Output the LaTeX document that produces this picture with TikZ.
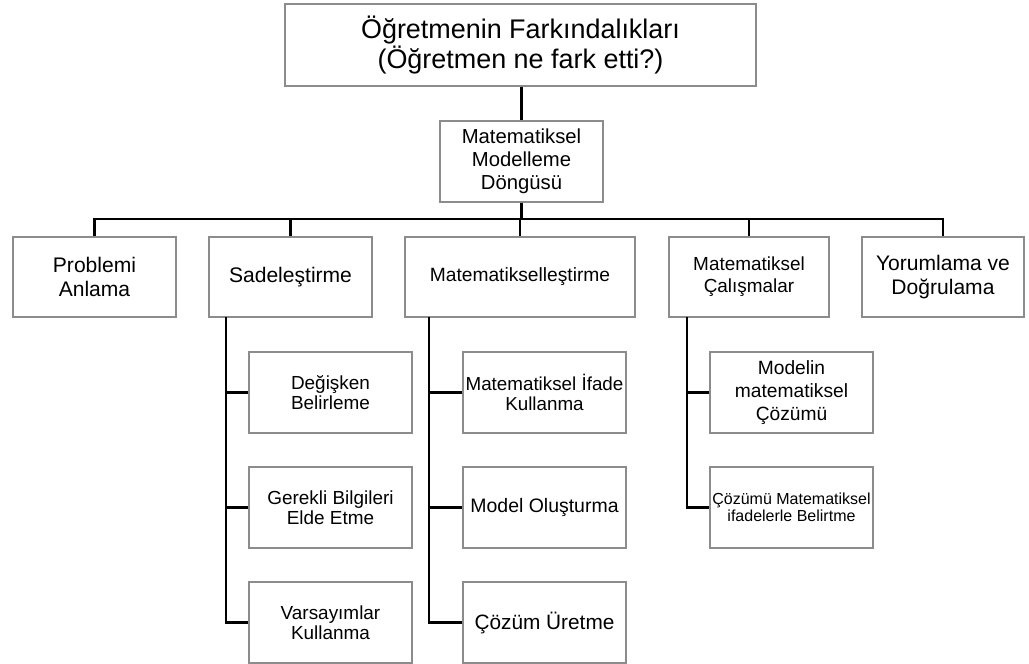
\documentclass[tikz,border=0pt]{standalone}
\usepackage{fontspec}
\setmainfont{Liberation Sans}
\definecolor{boxgray}{HTML}{8C8C8C}

\begin{document}
\begin{tikzpicture}[x=0.75pt, y=-0.75pt,
    box/.style={draw=boxgray, line width=0.9pt, fill=white, align=center, inner sep=0pt},
    mainbox/.style={box, minimum width=122.25pt, minimum height=60pt, font=\fontsize{15.8}{17.5}\selectfont},
    subbox/.style={box, minimum width=122.25pt, minimum height=60.75pt, font=\fontsize{14.2}{14.6}\selectfont},
    treeline/.style={line width=2.1pt, line join=miter}]
    \useasboundingbox (0,0) rectangle (1029,664);
    % top of the tree
    \node[box, minimum width=353.25pt, minimum height=61.5pt, font=\fontsize{20.2}{22.5}\selectfont] (title) at (520.5,45)
      {Öğretmenin Farkındalıkları\\(Öğretmen ne fark etti?)};
    \node[box, minimum width=122.25pt, minimum height=60.75pt, font=\fontsize{15.2}{17.25}\selectfont] (cycle) at (521.5,161.5)
      {Matematiksel\\Modelleme\\Döngüsü};
    % phases
    \node[mainbox] (anlama) at (94.5,277) {Problemi\\Anlama};
    \node[mainbox] (sade) at (290.5,277) {Sadeleştirme};
    \node[mainbox, minimum width=172.5pt, font=\fontsize{14.4}{16}\selectfont] (matlas) at (520,277) {Matematikselleştirme};
    \node[mainbox, minimum width=120pt, font=\fontsize{14.2}{16.5}\selectfont] (calis) at (749,277) {Matematiksel\\Çalışmalar};
    \node[mainbox, minimum width=121.5pt] (yorum) at (943,277) {Yorumlama ve\\Doğrulama};
    % sub steps
    \node[subbox] (sade1) at (330.5,392.5) {Değişken\\Belirleme};
    \node[subbox] (sade2) at (330.5,507.5) {Gerekli Bilgileri\\Elde Etme};
    \node[subbox] (sade3) at (330.5,622.5) {Varsayımlar\\Kullanma};
    \node[subbox, font=\fontsize{14.1}{15}\selectfont] (mat1) at (544.5,392.5) {Matematiksel İfade\\Kullanma};
    \node[subbox, font=\fontsize{14.6}{17}\selectfont] (mat2) at (544.5,507.5) {Model Oluşturma};
    \node[subbox, font=\fontsize{15.6}{17}\selectfont] (mat3) at (544.5,622.5) {Çözüm Üretme};
    \node[subbox, font=\fontsize{14.4}{17.25}\selectfont] (cal1) at (791.5,392.5) {Modelin\\matematiksel\\Çözümü};
    \node[subbox, font=\fontsize{12}{12.75}\selectfont] (cal2) at (791.5,507.5) {Çözümü Matematiksel\\ifadelerle Belirtme};
    % connectors
    \coordinate (bus) at (521.5,219);
    \coordinate (sadetrunk) at (226,317);
    \coordinate (mattrunk) at (429,317);
    \coordinate (caltrunk) at (687,317);
    \draw[treeline] (title.south -| cycle.north) -- (cycle.north);
    \draw[treeline] (cycle) -- (bus);
    \draw[treeline] (anlama.north) -- (anlama.north |- bus) -- (yorum.north |- bus) -- (yorum.north);
    \draw[treeline] (sade.north) -- (sade.north |- bus);
    \draw[treeline] (matlas.north) -- (matlas.north |- bus);
    \draw[treeline] (calis.north) -- (calis.north |- bus);
    \draw[treeline] (sadetrunk) |- (sade3.west);
    \draw[treeline] (sade1.west) -- (sade1.west -| sadetrunk);
    \draw[treeline] (sade2.west) -- (sade2.west -| sadetrunk);
    \draw[treeline] (mattrunk) |- (mat3.west);
    \draw[treeline] (mat1.west) -- (mat1.west -| mattrunk);
    \draw[treeline] (mat2.west) -- (mat2.west -| mattrunk);
    \draw[treeline] (caltrunk) |- (cal2.west);
    \draw[treeline] (cal1.west) -- (cal1.west -| caltrunk);
\end{tikzpicture}
\end{document}
